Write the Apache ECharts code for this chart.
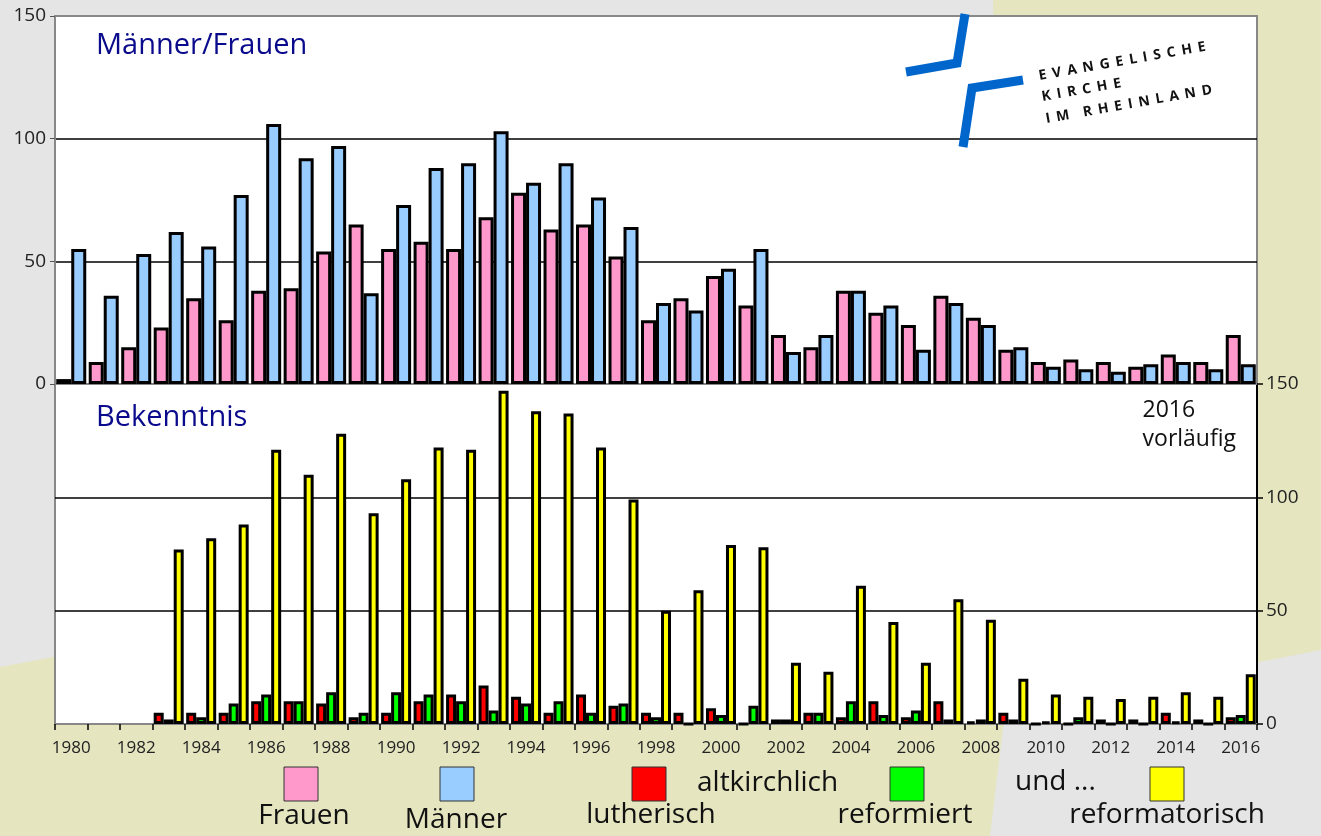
<!DOCTYPE html>
<html>
<head>
<meta charset="utf-8">
<script src="https://cdn.jsdelivr.net/npm/echarts@6/dist/echarts.min.js"></script>
<style>
  html, body { margin: 0; padding: 0; background: #e5e5e5; }
  #chart { width: 1321px; height: 836px; }
</style>
</head>
<body>
<div id="chart"></div>
<script>
// Jahre 1980 - 2016
const years = []
for (let y = 1980; y <= 2016; y++) years.push(String(y))

const frauen = [2, 9, 15, 23, 35, 26, 38, 39, 54, 65, 55, 58, 55, 68, 78, 63, 65, 52, 26, 35, 44, 32, 20, 15, 38, 29, 24, 36, 27, 14, 9, 10, 9, 7, 12, 9, 20]
const maenner = [55, 36, 53, 62, 56, 77, 106, 92, 97, 37, 73, 88, 90, 103, 82, 90, 76, 64, 33, 30, 47, 55, 13, 20, 38, 32, 14, 33, 24, 15, 7, 6, 5, 8, 9, 6, 8]

const lutherisch = [null, null, null, 5, 5, 5, 10, 10, 9, 3, 5, 10, 13, 17, 12, 5, 13, 8, 5, 5, 7, 0, 2, 5, 3, 10, 3, 10, 1, 5, 0, 0, 2, 2, 5, 2, 3]
const reformiert = [null, null, null, 2, 3, 9, 13, 10, 14, 5, 14, 13, 10, 6, 9, 10, 5, 9, 3, 0, 4, 8, 2, 5, 10, 4, 6, 2, 2, 2, 1, 3, 0, 0, 1, 0, 4]
const reformatorisch = [null, null, null, 77, 82, 88, 121, 110, 128, 93, 108, 122, 121, 147, 138, 137, 122, 99, 50, 59, 79, 78, 27, 23, 61, 45, 27, 55, 46, 20, 13, 12, 11, 12, 14, 12, 22]

const chart = echarts.init(document.getElementById('chart'))

const font = '"Open Sans", "Noto Sans", sans-serif'
const gridLineColors = ['#888', '#000', '#000', '#888']
const sp = ' \u2006'
const spaced = (s) => s.split('').join(sp)

const barStyle = (color) => ({
  color: color,
  borderColor: '#000',
  borderWidth: 3
})

const option = {
  backgroundColor: '#e5e5e5',
  animation: false,
  textStyle: { fontFamily: font },
  grid: [
    { left: 55, top: 16, width: 1202, height: 368, show: true, backgroundColor: '#fff', borderColor: '#888', borderWidth: 2 },
    { left: 55, top: 384, width: 1202, height: 340, show: true, backgroundColor: '#fff', borderColor: '#888', borderWidth: 2 }
  ],
  xAxis: [
    {
      type: 'category', gridIndex: 0, data: years,
      axisLine: { lineStyle: { color: '#888', width: 2 } },
      axisTick: { show: false },
      axisLabel: { show: false }
    },
    {
      type: 'category', gridIndex: 1, data: years,
      axisLine: { lineStyle: { color: '#888', width: 2 } },
      axisTick: { show: true, interval: 0, length: 6, lineStyle: { color: '#000', width: 1.5 } },
      axisLabel: { interval: 1, fontSize: 17, color: '#222', margin: 16, fontFamily: font }
    }
  ],
  yAxis: [
    {
      type: 'value', gridIndex: 0, position: 'left',
      min: 0, max: 150, interval: 50,
      axisLine: { show: true, lineStyle: { color: '#888', width: 2 } },
      axisTick: { show: true, length: 5, lineStyle: { color: '#555' } },
      axisLabel: { fontSize: 19, color: '#222', margin: 9, fontFamily: font },
      splitLine: { lineStyle: { color: gridLineColors, width: 1.5 } }
    },
    {
      type: 'value', gridIndex: 1, position: 'right',
      min: 0, max: 150, interval: 50,
      axisLine: { show: true, lineStyle: { color: '#000', width: 2 } },
      axisTick: { show: true, length: 6, lineStyle: { color: '#000', width: 1.5 } },
      axisLabel: { fontSize: 19, color: '#222', margin: 9, fontFamily: font },
      splitLine: { lineStyle: { color: gridLineColors, width: 1.5 } }
    }
  ],
  series: [
    { name: 'Frauen', type: 'bar', xAxisIndex: 0, yAxisIndex: 0, data: frauen, barWidth: 15, barGap: '0%', itemStyle: barStyle('#ff99cc') },
    { name: 'Männer', type: 'bar', xAxisIndex: 0, yAxisIndex: 0, data: maenner, barWidth: 15, barGap: '0%', itemStyle: barStyle('#99ccff') },
    { name: 'lutherisch', type: 'bar', xAxisIndex: 1, yAxisIndex: 1, data: lutherisch, barWidth: 10, barGap: '0%', itemStyle: barStyle('#ff0000') },
    { name: 'reformiert', type: 'bar', xAxisIndex: 1, yAxisIndex: 1, data: reformiert, barWidth: 10, barGap: '0%', itemStyle: barStyle('#00ff00') },
    { name: 'reformatorisch', type: 'bar', xAxisIndex: 1, yAxisIndex: 1, data: reformatorisch, barWidth: 10, barGap: '0%', itemStyle: barStyle('#ffff00') }
  ],
  graphic: [
    // Hintergrundflächen
    { type: 'polygon', z: -100, shape: { points: [[993, 0], [1321, 0], [1321, 650], [1005, 712]] }, style: { fill: '#e5e5c0' } },
    { type: 'polygon', z: -100, shape: { points: [[0, 667], [1005, 478], [1005, 712], [990, 836], [0, 836]] }, style: { fill: '#e5e5c0' } },

    // Panel-Titel
    { type: 'text', left: 96, top: 31, z: 50, style: { text: 'Männer/Frauen', font: '29px ' + font, fill: '#0a0a8c' } },
    { type: 'text', left: 96, top: 403, z: 50, style: { text: 'Bekenntnis', font: '29px ' + font, fill: '#0a0a8c' } },
    { type: 'text', right: 85, top: 396, z: 50, style: { text: '2016\nvorläufig', font: '23px ' + font, fill: '#111', align: 'right', lineHeight: 29 } },

    // Logo
    { type: 'polyline', z: 50, shape: { points: [[906, 72], [957, 63], [965, 14]] }, style: { stroke: '#0066cc', lineWidth: 9, fill: null } },
    { type: 'polyline', z: 50, shape: { points: [[1023, 80], [972, 88], [963, 147]] }, style: { stroke: '#0066cc', lineWidth: 9, fill: null } },
    { type: 'text', z: 50, x: 1040, y: 83, rotation: 0.175, style: { text: spaced('EVANGELISCHE'), font: 'bold 14px ' + font, fill: '#111', verticalAlign: 'bottom' } },
    { type: 'text', z: 50, x: 1043, y: 104, rotation: 0.175, style: { text: spaced('KIRCHE'), font: 'bold 14px ' + font, fill: '#111', verticalAlign: 'bottom' } },
    { type: 'text', z: 50, x: 1047, y: 126, rotation: 0.175, style: { text: spaced('IM') + '\u2003' + spaced('RHEINLAND'), font: 'bold 14px ' + font, fill: '#111', verticalAlign: 'bottom' } },

    // Legende
    { type: 'rect', z: 50, shape: { x: 284, y: 767, width: 34, height: 34 }, style: { fill: '#ff99cc', stroke: '#333', lineWidth: 1 } },
    { type: 'rect', z: 50, shape: { x: 440, y: 767, width: 34, height: 34 }, style: { fill: '#99ccff', stroke: '#333', lineWidth: 1 } },
    { type: 'rect', z: 50, shape: { x: 632, y: 767, width: 34, height: 34 }, style: { fill: '#ff0000', stroke: '#333', lineWidth: 1 } },
    { type: 'rect', z: 50, shape: { x: 890, y: 767, width: 34, height: 34 }, style: { fill: '#00ff00', stroke: '#333', lineWidth: 1 } },
    { type: 'rect', z: 50, shape: { x: 1150, y: 767, width: 34, height: 34 }, style: { fill: '#ffff00', stroke: '#333', lineWidth: 1 } },
    { type: 'text', z: 50, x: 304, y: 816, style: { text: 'Frauen', font: '28px ' + font, fill: '#111', align: 'center', verticalAlign: 'middle' } },
    { type: 'text', z: 50, x: 456, y: 820, style: { text: 'Männer', font: '28px ' + font, fill: '#111', align: 'center', verticalAlign: 'middle' } },
    { type: 'text', z: 50, x: 651, y: 815, style: { text: 'lutherisch', font: '28px ' + font, fill: '#111', align: 'center', verticalAlign: 'middle' } },
    { type: 'text', z: 50, x: 697, y: 783, style: { text: 'altkirchlich', font: '28px ' + font, fill: '#111', align: 'left', verticalAlign: 'middle' } },
    { type: 'text', z: 50, x: 905, y: 815, style: { text: 'reformiert', font: '28px ' + font, fill: '#111', align: 'center', verticalAlign: 'middle' } },
    { type: 'text', z: 50, x: 1015, y: 782, style: { text: 'und ...', font: '28px ' + font, fill: '#111', align: 'left', verticalAlign: 'middle' } },
    { type: 'text', z: 50, x: 1167, y: 815, style: { text: 'reformatorisch', font: '28px ' + font, fill: '#111', align: 'center', verticalAlign: 'middle' } }
  ]
}

chart.setOption(option)
window.addEventListener('resize', () => chart.resize())
</script>
</body>
</html>
